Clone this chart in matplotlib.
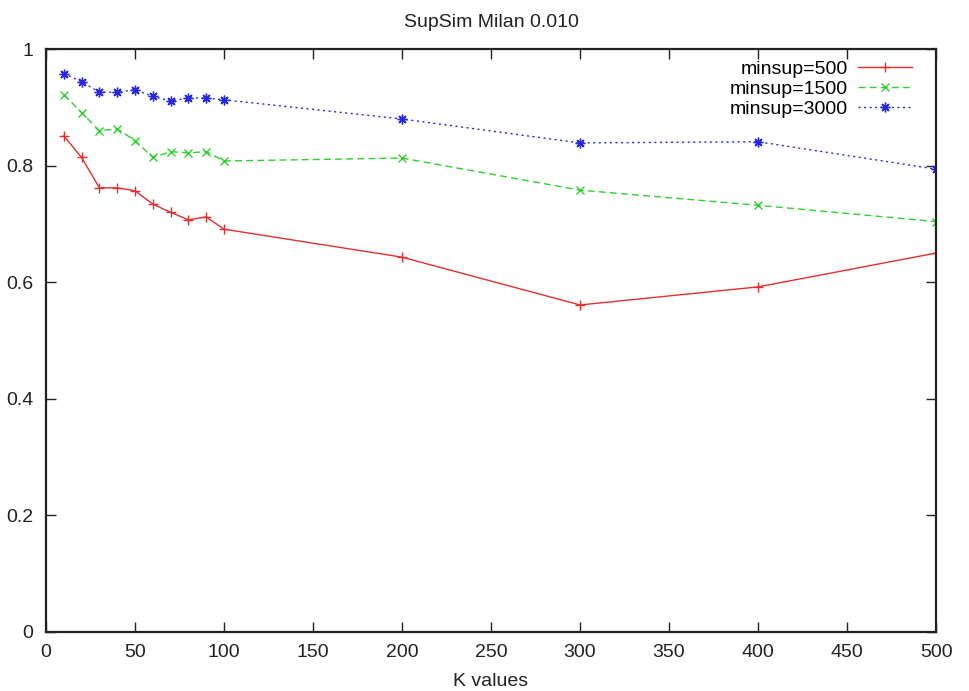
import numpy as np
import matplotlib
matplotlib.use("Agg")
import matplotlib.pyplot as plt

# K values and similarity per minsup setting
k_values = [10, 20, 30, 40, 50, 60, 70, 80, 90, 100, 200, 300, 400, 500]
sim_500 = [0.851, 0.814, 0.762, 0.762, 0.757, 0.734, 0.720, 0.707, 0.712, 0.691,
           0.643, 0.561, 0.592, 0.650]
sim_1500 = [0.922, 0.891, 0.860, 0.863, 0.843, 0.814, 0.824, 0.822, 0.824, 0.808,
            0.813, 0.758, 0.732, 0.704]
sim_3000 = [0.958, 0.944, 0.926, 0.926, 0.930, 0.919, 0.911, 0.916, 0.916, 0.913,
            0.880, 0.839, 0.841, 0.794]

labels = ["minsup=500", "minsup=1500", "minsup=3000"]
x_ticks = [0, 50, 100, 150, 200, 250, 300, 350, 400, 450, 500]
y_ticks = [0, 0.2, 0.4, 0.6, 0.8, 1]
y_tick_labels = ["0", "0.2", "0.4", "0.6", "0.8", "1"]

plt.rcParams['font.family'] = ['Liberation Sans', 'DejaVu Sans']
fs = 14

fig = plt.figure(figsize=(9.7, 6.91), dpi=100)
ax = fig.add_axes([0.0474, 0.0854, 0.9176, 0.8436])

ax.plot(k_values, sim_500, color='#e03030', lw=1.0, ls='-',
        marker='+', ms=7, mew=1.0, label=labels[0])
ax.plot(k_values, sim_1500, color='#30d030', lw=1.0, ls=(0, (5, 3)),
        marker='x', ms=6, mew=1.0, label=labels[1])
ax.plot(k_values, sim_3000, color='#2828e0', lw=1.0, ls=(0, (1.5, 2.5)),
        marker=(8, 2, 0), ms=7, mew=1.0, label=labels[2])

ax.set_xlim(0, 500)
ax.set_ylim(0, 1)
ax.set_xticks(x_ticks)
ax.set_yticks(y_ticks)
ax.set_yticklabels(y_tick_labels)
ax.tick_params(direction='in', length=7, width=1.0, top=True, right=True,
               labelsize=fs, colors='#222222', pad=9)
for s in ax.spines.values():
    s.set_linewidth(1.6)
    s.set_color('#222222')

ax.set_title("SupSim Milan 0.010", fontsize=fs, pad=16, color='#222222')
ax.set_xlabel("K values", fontsize=fs, labelpad=8, color='#222222')

leg = ax.legend(loc='upper right', bbox_to_anchor=(0.973, 0.981), frameon=False,
                markerfirst=False, fontsize=fs, handlelength=2.8,
                labelspacing=0.12, handletextpad=0.5, borderaxespad=0.0,
                borderpad=0.0)

fig.savefig("out.png", dpi=100)
